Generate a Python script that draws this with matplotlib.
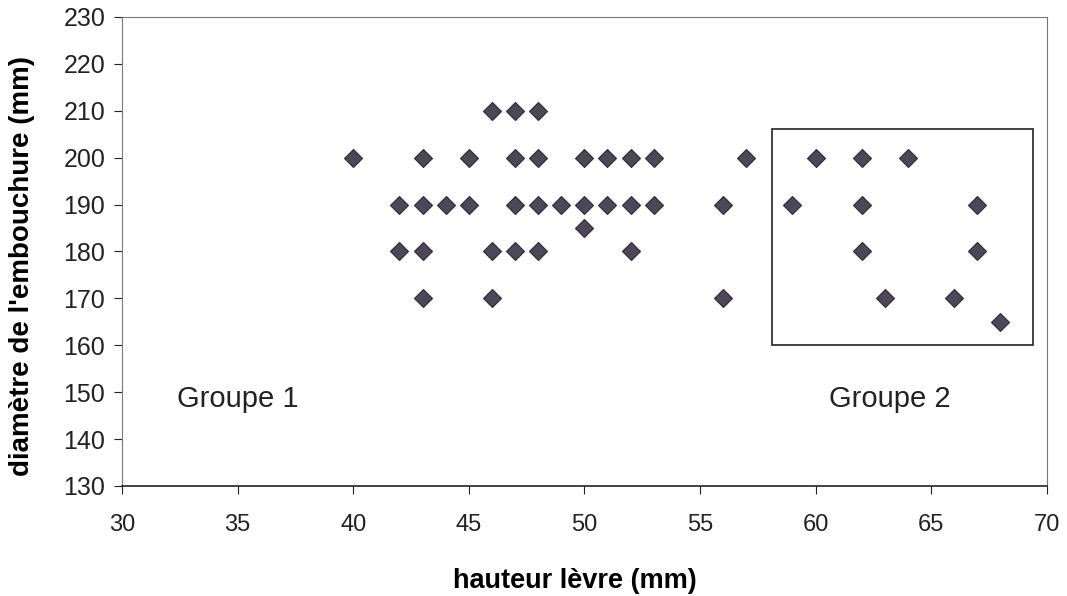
import matplotlib.pyplot as plt
from matplotlib.patches import Rectangle

plt.rcParams["font.family"] = ["Liberation Sans", "DejaVu Sans"]

# hauteur lèvre (mm) / diamètre de l'embouchure (mm)
HAUTEUR = [46, 47, 48,
           40, 43, 45, 47, 48, 50, 51, 52, 53, 57, 60, 62, 64,
           42, 43, 44, 45, 47, 48, 49, 50, 51, 52, 53, 56, 59, 62, 67,
           50,
           42, 43, 46, 47, 48, 52, 62, 67,
           43, 46, 56, 63, 66,
           68]
DIAMETRE = [210, 210, 210,
            200, 200, 200, 200, 200, 200, 200, 200, 200, 200, 200, 200, 200,
            190, 190, 190, 190, 190, 190, 190, 190, 190, 190, 190, 190, 190, 190, 190,
            185,
            180, 180, 180, 180, 180, 180, 180, 180,
            170, 170, 170, 170, 170,
            165]

XTICKS = list(range(30, 71, 5))
YTICKS = list(range(130, 231, 10))

fig = plt.figure(figsize=(10.67, 5.96), dpi=100)
ax = fig.add_axes([0.1143, 0.1846, 0.8667, 0.787])

ax.plot(HAUTEUR, DIAMETRE, linestyle="none", marker="D", markersize=9,
        markerfacecolor="#4d4858", markeredgecolor="#2e2a36", markeredgewidth=0.8)

# box around group 2
ax.add_patch(Rectangle((58.1, 160), 11.3, 46, fill=False, edgecolor="#222222", linewidth=1.2))
ax.text(35, 148.5, "Groupe 1", fontsize=21, ha="center", va="center", color="#222222")
ax.text(63.2, 148.5, "Groupe 2", fontsize=21, ha="center", va="center", color="#222222")

ax.set_xlim(30, 70)
ax.set_ylim(130, 230)
ax.set_xticks(XTICKS)
ax.set_yticks(YTICKS)
ax.tick_params(length=6, width=0.8, colors="#222222")
ax.tick_params(axis="x", labelsize=17, pad=14)
ax.tick_params(axis="y", labelsize=18, pad=6)
ax.set_xlabel("hauteur lèvre (mm)", fontsize=19.5, fontweight="bold", va="top")
ax.set_ylabel("diamètre de l'embouchure (mm)", fontsize=20, fontweight="bold", va="bottom")
ax.xaxis.set_label_coords(0.49, -0.175)
ax.yaxis.set_label_coords(-0.094, 0.47)

for side in ["left", "right", "top"]:
    ax.spines[side].set_color("#777777")
    ax.spines[side].set_linewidth(0.8)
ax.spines["bottom"].set_color("#222222")
ax.spines["bottom"].set_linewidth(1.2)

fig.savefig("out.png", dpi=100)
